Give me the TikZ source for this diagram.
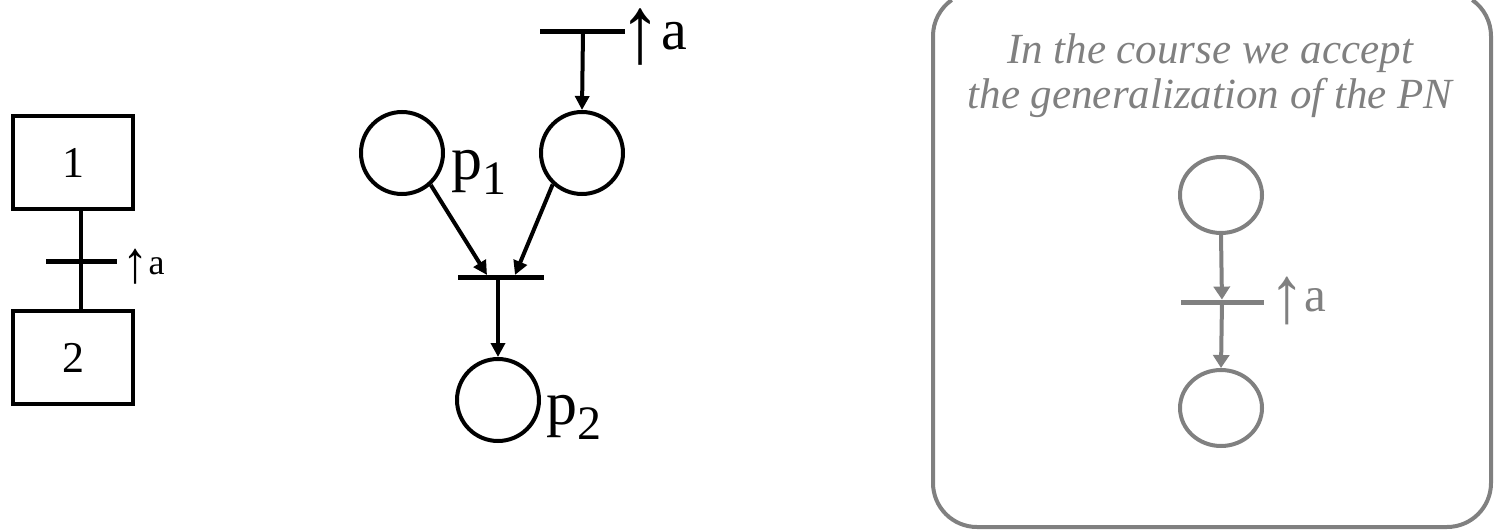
\documentclass[tikz,border=0pt]{standalone}
\usepackage{fontspec}
\usepackage{graphicx}
\setmainfont{Liberation Serif}
\usetikzlibrary{arrows.meta,shapes.geometric}
\definecolor{pngray}{HTML}{808080}
\newcommand{\uparr}{\raisebox{-0.23em}[0.65em][0.23em]{\scalebox{1.45}[1.65]{↑}}}
\begin{document}
\begin{tikzpicture}[x=0.5pt,y=-0.5pt,
  blk/.style={line width=2pt},
  stepbox/.style={draw,line width=2pt,minimum width=60pt,minimum height=46.5pt,inner sep=0pt,font=\fontsize{22}{22}\selectfont},
  place/.style={draw,circle,line width=2pt,minimum size=41pt,inner sep=0pt},
  gplace/.style={draw=pngray,ellipse,line width=2pt,minimum width=41pt,minimum height=38pt,inner sep=0pt},
  tbar/.style={line width=2.5pt},
  gbar/.style={line width=2.5pt,draw=pngray},
  gframe/.style={draw=pngray,line width=2pt},
  arr/.style={line width=2pt,-{Triangle[length=7pt,width=7pt]}},
  garr/.style={line width=2pt,draw=pngray,-{Triangle[length=6.5pt,width=8pt]}},
  smalllab/.style={inner sep=0pt,font=\fontsize{18}{18}\selectfont},
  biglab/.style={inner sep=0pt,font=\fontsize{29}{29}\selectfont},
  plab/.style={inner sep=0pt,font=\fontsize{31}{31}\selectfont},
  glab/.style={inner sep=0pt,text=pngray,font=\fontsize{24.5}{24.5}\selectfont},
  gtext/.style={inner sep=0pt,text=pngray,font=\fontsize{21.5}{21.5}\selectfont\itshape},
]
\clip (0,0) rectangle (1494,530);
\useasboundingbox (0,0) rectangle (1494,530);
% left: GRAFCET
\node[stepbox] (s1) at (73,162.5) {1};
\node[stepbox] (s2) at (73,357.5) {2};
\coordinate (t1) at (81,261);
\coordinate (t1l) at (46,261);
\coordinate (t1r) at (117,261);
\draw[blk] (t1 |- s1.south) -- (t1 |- s2.north);
\draw[tbar] (t1l) -- (t1r);
\node[smalllab,anchor=base west] (la1) at (122,274) {\uparr a};
% middle: Petri net
\coordinate (tbl) at (540,31);
\coordinate (tbr) at (625,31);
\coordinate (tb) at (583,31);
\draw[tbar] (tbl) -- (tbr);
\node[biglab,anchor=base west] (la2) at (619,49) {\uparr a};
\node[place] (pr) at (582,153) {};
\draw[arr] (tb) -- (pr.north);
\node[place] (p1) at (402,153) {};
\node[plab,anchor=base west] (p1l) at (451,179) {p\raisebox{-0.25em}{\fontsize{24}{24}\selectfont 1}};
\coordinate (mbl) at (458,277);
\coordinate (mbr) at (544,277);
\coordinate (mb) at (498,277);
\coordinate (mb1) at (487,275);
\coordinate (mb2) at (515,275);
\draw[tbar] (mbl) -- (mbr);
\draw[arr] (p1.-48) -- (mb1);
\draw[arr] (pr.-133) -- (mb2);
\node[place] (p2) at (498,400) {};
\draw[arr] (mb) -- (p2.north);
\node[plab,anchor=base west] (p2l) at (546,424) {p\raisebox{-0.25em}{\fontsize{24}{24}\selectfont 2}};
% right: generalization (frame runs off the top and right of the picture)
\draw[gframe] (951.7,0) arc[start angle=234.9,end angle=180,radius=44]
  -- (933,483) arc[start angle=180,end angle=90,radius=44]
  -- (1447,527) arc[start angle=90,end angle=0,radius=44]
  -- (1491,36) arc[start angle=0,end angle=-54.9,radius=44];
\node[gtext,anchor=base] (tx1) at (1210,63) {In the course we accept};
\node[gtext,anchor=base] (tx2) at (1210,108) {the generalization of the PN};
\node[gplace] (g1) at (1221,195) {};
\coordinate (gbl) at (1181,302);
\coordinate (gbr) at (1264,302);
\coordinate (gb) at (1222,302);
\draw[gbar] (gbl) -- (gbr);
\draw[garr,shorten >=1.2pt] (g1.south) -- (gb);
\node[gplace] (g2) at (1221,408) {};
\draw[garr] (gb) -- (g2.north);
\node[glab,anchor=base west] (la3) at (1269,311) {\uparr a};
\end{tikzpicture}
\end{document}
